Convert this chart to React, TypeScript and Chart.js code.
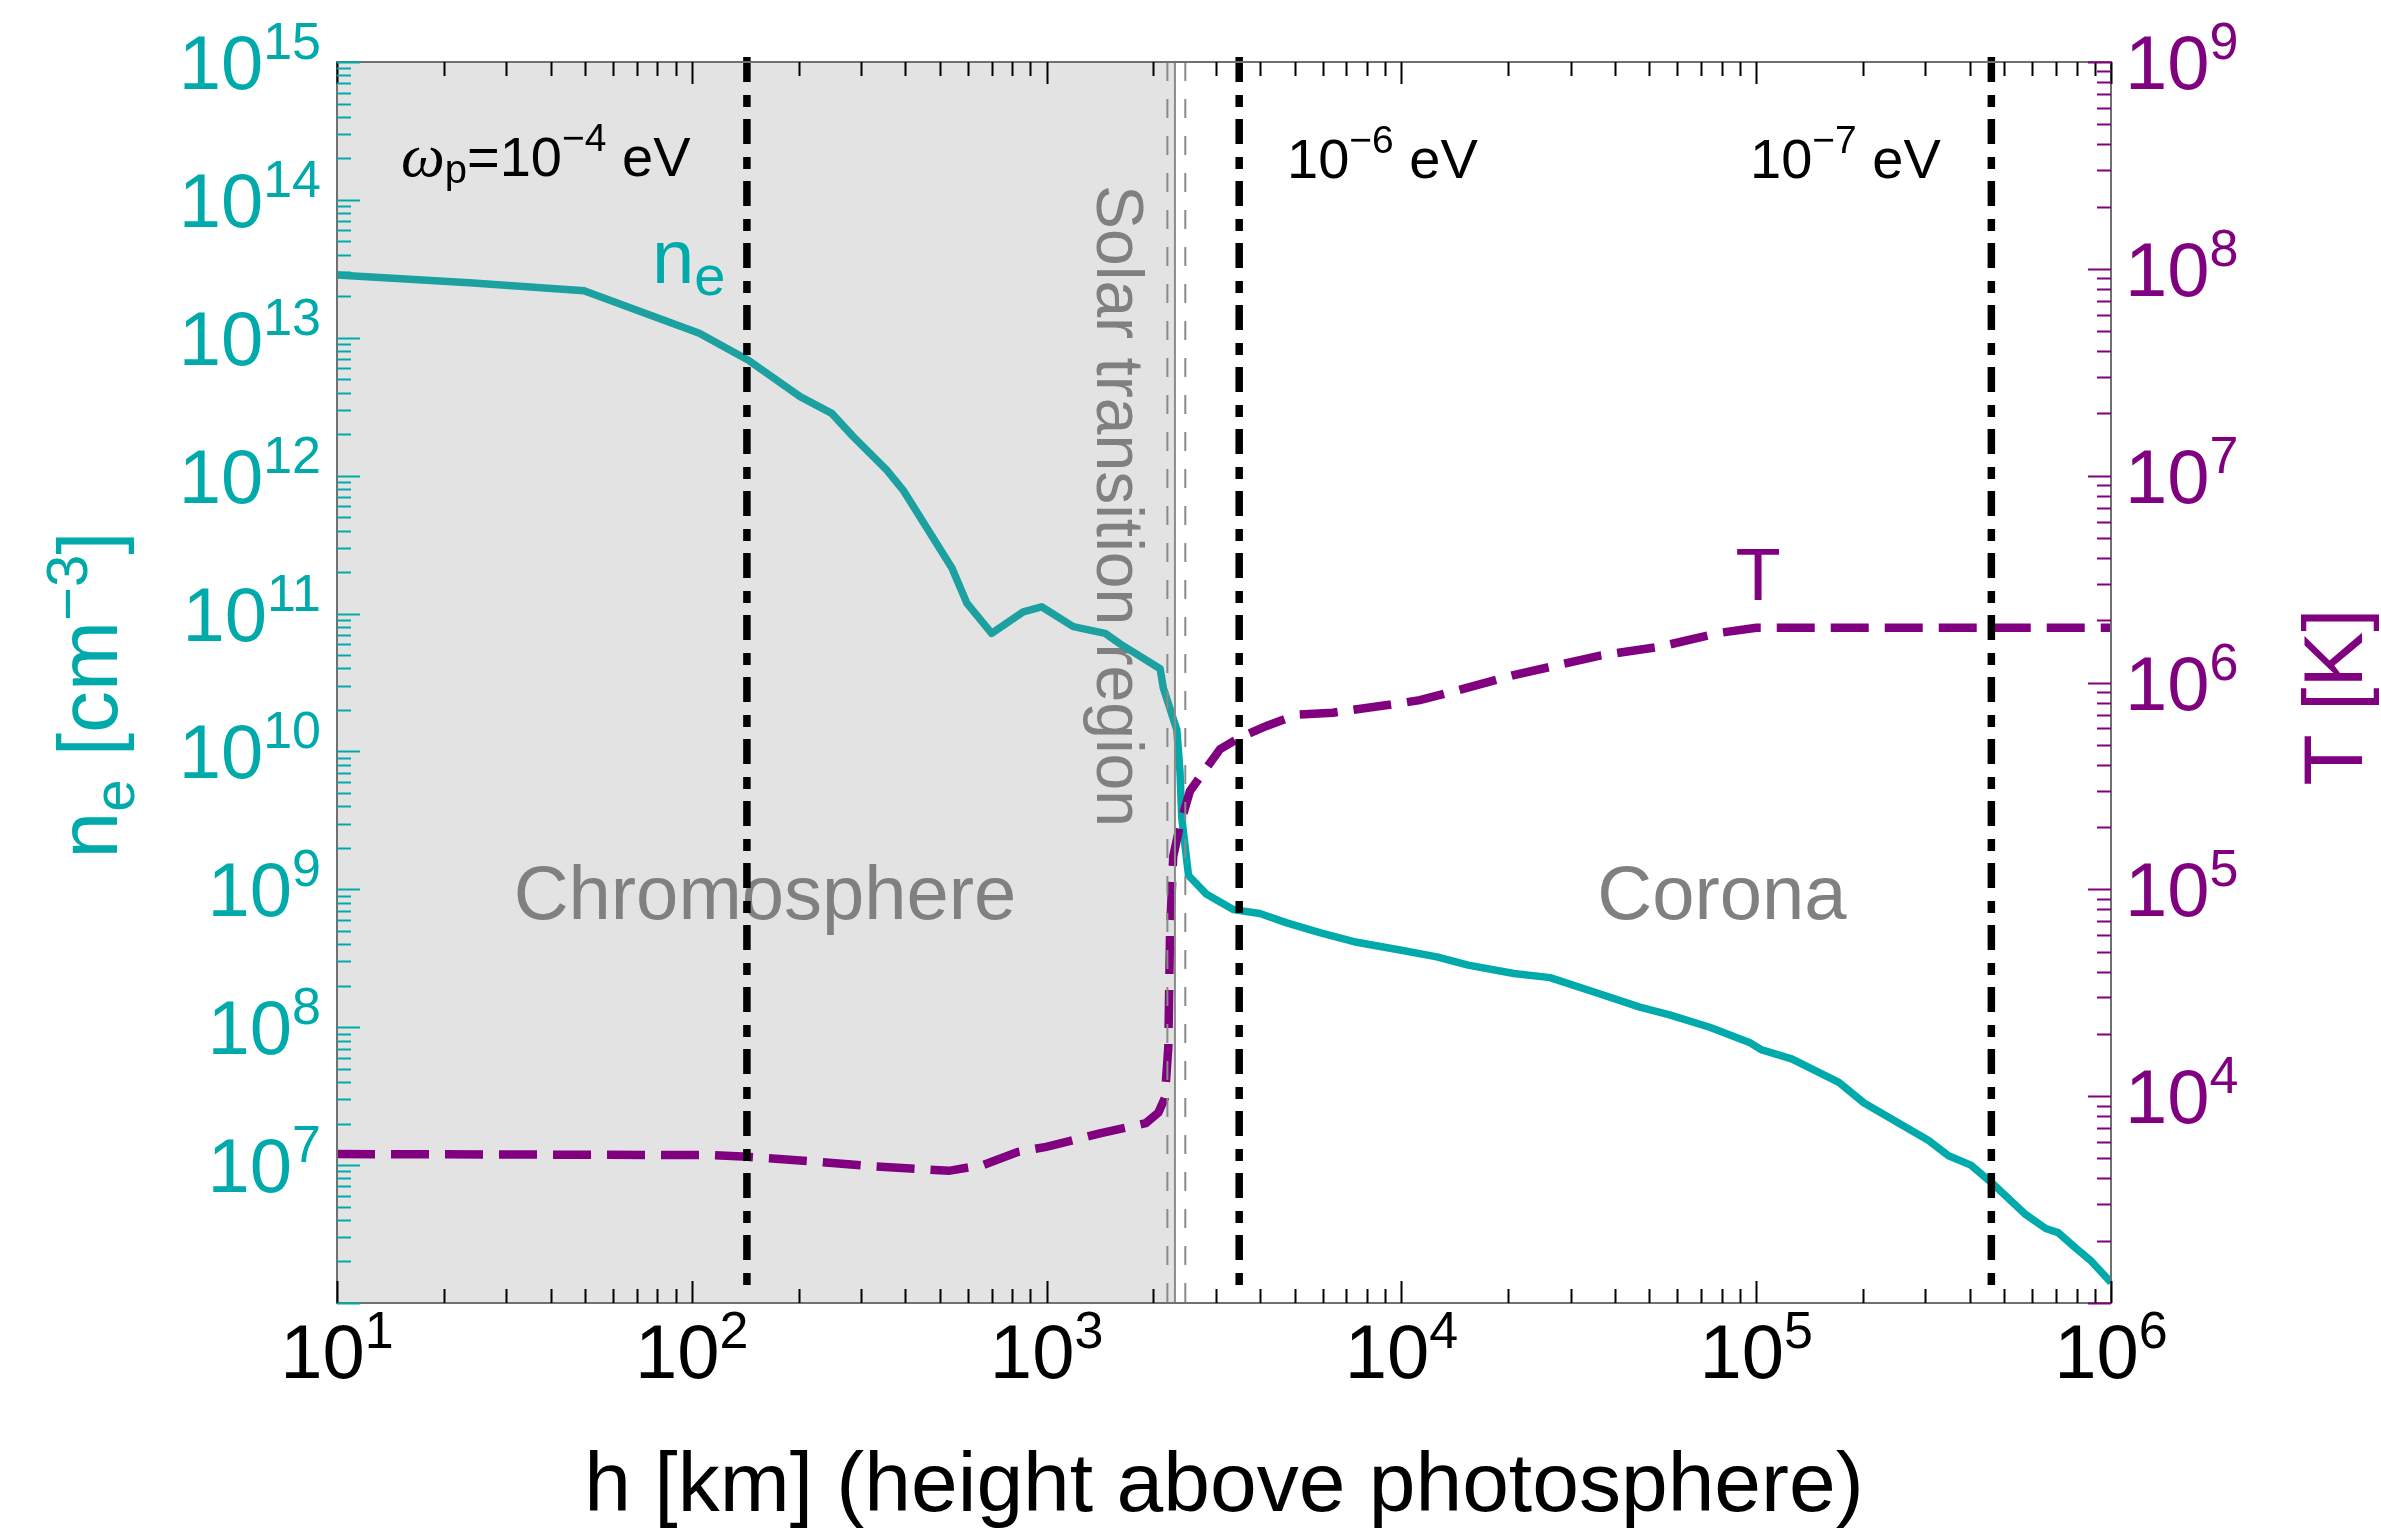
import React, { useEffect, useRef } from 'react';
import { Chart, registerables } from 'chart.js';

Chart.register(...registerables);

// ---------- data ----------
const neHeightKm = [10, 23.6, 49.7, 105, 144, 202, 248, 285, 354, 394, 541, 596, 700, 859, 968, 1189, 1462, 1611, 2089, 2133, 2328, 2377, 2404, 2512, 2825, 3357, 3990, 4753, 5888, 7482, 9908, 12590, 15420, 20750, 26240, 36310, 46990, 57020, 73960, 95720, 103700, 125900, 171000, 201400, 306200, 348300, 402700, 466700, 575400, 654600, 709600, 794300, 875000, 1000000];
const neDensity = [2.85e13, 2.51e13, 2.19e13, 1.08e13, 6.9e12, 3.74e12, 2.83e12, 1.92e12, 1.1e12, 7.87e11, 2.14e11, 1.19e11, 7.19e10, 1.03e11, 1.12e11, 8.04e10, 7.19e10, 6.03e10, 3.98e10, 2.88e10, 1.44e10, 7.08e9, 3.31e9, 1.26e9, 9.2e8, 7.13e8, 6.68e8, 5.71e8, 4.85e8, 4.13e8, 3.63e8, 3.24e8, 2.82e8, 2.45e8, 2.29e8, 1.74e8, 1.4e8, 1.23e8, 1.0e8, 7.76e7, 6.84e7, 5.89e7, 3.98e7, 2.82e7, 1.51e7, 1.17e7, 1.0e7, 7.24e6, 4.37e6, 3.47e6, 3.24e6, 2.51e6, 2.04e6, 1.41e6];

const tempHeightKm = [10, 115, 144, 225, 326, 530, 662, 828, 998, 1413, 1905, 2065, 2153, 2203, 2228, 2275, 2377, 2535, 2767, 3083, 3508, 4169, 5070, 6412, 9908, 11270, 14450, 20750, 36310, 53460, 78890, 100000, 1000000];
const temperatureK = [5250, 5190, 5090, 4820, 4580, 4355, 4645, 5370, 5690, 6610, 7410, 8320, 9770, 17180, 61660, 144500, 204200, 298500, 369000, 476400, 542000, 616600, 698200, 714500, 794300, 822200, 918300, 1086000, 1349000, 1489000, 1738000, 1841000, 1841000];

const plasmaLineHeights = [143, 3490, 460000];
const transitionDashedHeights = [2190, 2460];
const transitionSolidHeight = 2300;

const xTickExponents = [1, 2, 3, 4, 5, 6];
const neTickExponents = [7, 8, 9, 10, 11, 12, 13, 14, 15];
const tTickExponents = [4, 5, 6, 7, 8, 9];

const xTitle = 'h [km] (height above photosphere)';
const regionChromosphere = 'Chromosphere';
const regionCorona = 'Corona';
const regionTransition = 'Solar transition region';

// ---------- styles ----------
const FONT = '"Liberation Sans", Arial, Helvetica, sans-serif';
const TEAL = '#00aaaa';
const PURPLE = '#800080';
const GRAY = '#808080';

type Part = { t: string; size: number; dy?: number; font?: string };

const fnt = (size: number) => `${size}px ${FONT}`;

function partsWidth(ctx: CanvasRenderingContext2D, parts: Part[]) {
  let w = 0;
  for (const p of parts) {
    ctx.font = p.font ?? fnt(p.size);
    w += ctx.measureText(p.t).width;
  }
  return w;
}

function drawParts(ctx: CanvasRenderingContext2D, parts: Part[], x: number, y: number, align: 'left' | 'center' | 'right', color: string) {
  const w = partsWidth(ctx, parts);
  let cx = align === 'left' ? x : align === 'center' ? x - w / 2 : x - w;
  ctx.fillStyle = color;
  ctx.textAlign = 'left';
  ctx.textBaseline = 'alphabetic';
  for (const p of parts) {
    ctx.font = p.font ?? fnt(p.size);
    ctx.fillText(p.t, cx, y + (p.dy ?? 0));
    cx += ctx.measureText(p.t).width;
  }
}

const pow10Parts = (e: number): Part[] => [
  { t: '10', size: 76 },
  { t: String(e), size: 52, dy: -30 },
];

const decoPlugin = {
  id: 'deco',
  beforeDatasetsDraw(chart: any) {
    const ctx: CanvasRenderingContext2D = chart.ctx;
    ctx.save();
    ctx.fillStyle = GRAY;
    ctx.font = fnt(76);
    ctx.textAlign = 'center';
    ctx.textBaseline = 'alphabetic';
    ctx.fillText(regionChromosphere, 765, 919);
    ctx.fillText(regionCorona, 1722, 919);
    ctx.translate(1097, 185);
    ctx.rotate(Math.PI / 2);
    ctx.font = fnt(66);
    ctx.textAlign = 'left';
    ctx.fillText(regionTransition, 0, 0);
    ctx.restore();
  },
  afterDatasetDraw(chart: any, args: any) {
    if (args.index !== 0) return;
    const ctx: CanvasRenderingContext2D = chart.ctx;
    const a = chart.chartArea;
    const xe = chart.scales.x.getPixelForValue(transitionSolidHeight);
    ctx.save();
    ctx.fillStyle = 'rgba(128,128,128,0.22)';
    ctx.fillRect(a.left, a.top, xe - a.left, a.bottom - a.top);
    ctx.restore();
  },
  afterDraw(chart: any) {
    const ctx: CanvasRenderingContext2D = chart.ctx;
    const a = chart.chartArea;
    const sx = chart.scales.x;
    const sn = chart.scales.yNe;
    const st = chart.scales.yT;
    ctx.save();

    // transition lines
    ctx.strokeStyle = '#8a8a8a';
    ctx.lineWidth = 2;
    ctx.setLineDash([19, 18]);
    for (const h of transitionDashedHeights) {
      const px = sx.getPixelForValue(h);
      ctx.beginPath();
      ctx.moveTo(px, a.top);
      ctx.lineTo(px, a.bottom);
      ctx.stroke();
    }
    ctx.setLineDash([]);
    {
      const px = sx.getPixelForValue(transitionSolidHeight);
      ctx.beginPath();
      ctx.moveTo(px, a.top);
      ctx.lineTo(px, a.bottom);
      ctx.stroke();
    }

    // plasma frequency lines
    ctx.strokeStyle = '#000';
    ctx.lineWidth = 7.5;
    ctx.lineCap = 'butt';
    ctx.setLineDash([25, 13, 12, 12]);
    for (const h of plasmaLineHeights) {
      const px = sx.getPixelForValue(h);
      ctx.beginPath();
      ctx.moveTo(px, a.top - 5);
      ctx.lineTo(px, a.bottom - 8);
      ctx.stroke();
    }
    ctx.setLineDash([]);

    // frame
    ctx.strokeStyle = '#707070';
    ctx.lineWidth = 2;
    ctx.strokeRect(a.left, a.top, a.right - a.left, a.bottom - a.top);

    // x ticks
    ctx.lineWidth = 2;
    ctx.strokeStyle = '#000';
    for (let k = xTickExponents[0]; k <= xTickExponents[xTickExponents.length - 1]; k++) {
      for (let m = 1; m <= 9; m++) {
        const v = m * Math.pow(10, k);
        if (v > sx.max * 1.0001) break;
        const px = Math.round(sx.getPixelForValue(v)) + 0.5;
        const len = m === 1 ? 22 : 14;
        ctx.beginPath();
        ctx.moveTo(px, a.bottom);
        ctx.lineTo(px, a.bottom - len);
        ctx.moveTo(px, a.top);
        ctx.lineTo(px, a.top + len);
        ctx.stroke();
      }
    }
    // left ticks
    ctx.strokeStyle = TEAL;
    for (let k = 6; k <= 15; k++) {
      for (let m = 1; m <= 9; m++) {
        const v = m * Math.pow(10, k);
        if (v > sn.max * 1.0001) break;
        const py = Math.round(sn.getPixelForValue(v)) + 0.5;
        const len = m === 1 ? 23 : 14;
        ctx.beginPath();
        ctx.moveTo(a.left, py);
        ctx.lineTo(a.left + len, py);
        ctx.stroke();
      }
    }
    // right ticks
    ctx.strokeStyle = PURPLE;
    for (let k = 3; k <= 9; k++) {
      for (let m = 1; m <= 9; m++) {
        const v = m * Math.pow(10, k);
        if (v > st.max * 1.0001) break;
        const py = Math.round(st.getPixelForValue(v)) + 0.5;
        const len = m === 1 ? 23 : 14;
        ctx.beginPath();
        ctx.moveTo(a.right, py);
        ctx.lineTo(a.right - len, py);
        ctx.stroke();
      }
    }

    // tick labels
    for (const e of xTickExponents) {
      const px = sx.getPixelForValue(Math.pow(10, e));
      drawParts(ctx, pow10Parts(e), px, 1378, 'center', '#000');
    }
    for (const e of neTickExponents) {
      const py = sn.getPixelForValue(Math.pow(10, e));
      drawParts(ctx, pow10Parts(e), 321, py + 27, 'right', TEAL);
    }
    for (const e of tTickExponents) {
      const py = st.getPixelForValue(Math.pow(10, e));
      drawParts(ctx, pow10Parts(e), 2125, py + 27, 'left', PURPLE);
    }

    // axis titles
    ctx.fillStyle = '#000';
    ctx.font = fnt(84);
    ctx.textAlign = 'center';
    ctx.fillText(xTitle, (a.left + a.right) / 2, 1511);

    ctx.save();
    ctx.translate(117, 695);
    ctx.rotate(-Math.PI / 2);
    drawParts(ctx, [
      { t: 'n', size: 84 },
      { t: 'e', size: 58, dy: 17 },
      { t: ' [cm', size: 84 },
      { t: '\u22123', size: 58, dy: -30 },
      { t: ']', size: 84 },
    ], 0, 0, 'center', TEAL);
    ctx.restore();

    ctx.save();
    ctx.translate(2362, 697);
    ctx.rotate(-Math.PI / 2);
    drawParts(ctx, [{ t: 'T [K]', size: 84 }], 0, 0, 'center', PURPLE);
    ctx.restore();

    // annotations
    drawParts(ctx, [
      { t: '\u03c9', size: 62, font: `italic 62px "Liberation Serif", "Times New Roman", serif` },
      { t: 'p', size: 40, dy: 7 },
      { t: '=10', size: 56 },
      { t: '\u22124', size: 39, dy: -25 },
      { t: ' eV', size: 56 },
    ], 401, 176, 'left', '#000');
    drawParts(ctx, [
      { t: '10', size: 56 },
      { t: '\u22126', size: 39, dy: -25 },
      { t: ' eV', size: 56 },
    ], 1287, 178, 'left', '#000');
    drawParts(ctx, [
      { t: '10', size: 56 },
      { t: '\u22127', size: 39, dy: -25 },
      { t: ' eV', size: 56 },
    ], 1750, 178, 'left', '#000');

    drawParts(ctx, [
      { t: 'n', size: 76 },
      { t: 'e', size: 56, dy: 12 },
    ], 652, 283, 'left', TEAL);
    drawParts(ctx, [{ t: 'T', size: 74 }], 1758, 600, 'center', PURPLE);

    ctx.restore();
  },
};

export default function App() {
  const ref = useRef<HTMLCanvasElement | null>(null);
  useEffect(() => {
    if (!ref.current) return;
    const chart = new Chart(ref.current, {
      type: 'line',
      data: {
        datasets: [
          {
            label: 'n_e',
            data: neHeightKm.map((h, i) => ({ x: h, y: neDensity[i] })),
            xAxisID: 'x',
            yAxisID: 'yNe',
            borderColor: TEAL,
            borderWidth: 7.5,
            pointRadius: 0,
            tension: 0,
            fill: false,
            order: 2,
            borderJoinStyle: 'round',
          },
          {
            label: 'T',
            data: tempHeightKm.map((h, i) => ({ x: h, y: temperatureK[i] })),
            xAxisID: 'x',
            yAxisID: 'yT',
            borderColor: PURPLE,
            borderWidth: 8.5,
            borderDash: [38, 16],
            borderCapStyle: 'butt',
            pointRadius: 0,
            tension: 0,
            fill: false,
            order: 1,
          },
        ],
      },
      options: {
        responsive: false,
        maintainAspectRatio: false,
        devicePixelRatio: 1,
        animation: false,
        events: [],
        layout: { padding: { left: 337, right: 270, top: 62, bottom: 233 } },
        plugins: { legend: { display: false }, tooltip: { enabled: false } },
        scales: {
          x: { type: 'logarithmic', min: 10, max: 1e6, display: false },
          yNe: { type: 'logarithmic', position: 'left', min: 1e6, max: 1e15, display: false },
          yT: { type: 'logarithmic', position: 'right', min: 1e3, max: 1e9, display: false },
        },
      } as any,
      plugins: [decoPlugin as any],
    });
    return () => chart.destroy();
  }, []);
  return (
    <div style={{ position: 'fixed', left: 0, top: 0, width: 2381, height: 1536, background: '#fff' }}>
      <canvas ref={ref} width={2381} height={1536} style={{ width: 2381, height: 1536, display: 'block' }} />
    </div>
  );
}
